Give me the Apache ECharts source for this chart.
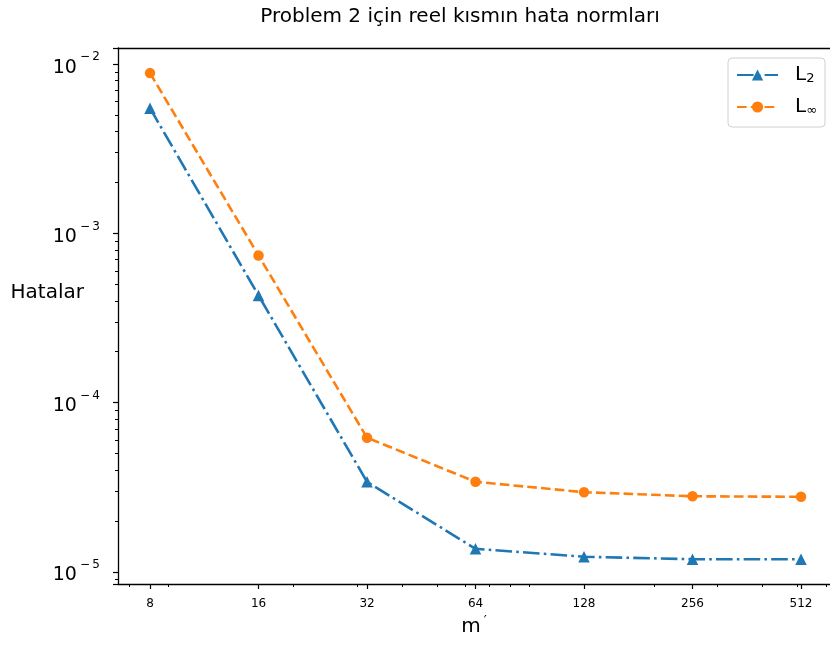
<!DOCTYPE html>
<html>
<head>
<meta charset="utf-8">
<script src="https://cdn.jsdelivr.net/npm/echarts@6/dist/echarts.min.js"></script>
<style>
html,body{margin:0;padding:0;background:#fff;}
#chart{width:830px;height:646px;}
</style>
</head>
<body>
<div id="chart"></div>
<script>
const titleText = 'Problem 2 için reel kısmın hata normları';
const mValues = [8, 16, 32, 64, 128, 256, 512];
const l2Values = [5.49e-3, 4.3e-4, 3.41e-5, 1.37e-5, 1.23e-5, 1.19e-5, 1.19e-5];
const linfValues = [8.85e-3, 7.41e-4, 6.21e-5, 3.41e-5, 2.96e-5, 2.80e-5, 2.78e-5];
const seriesNames = ['L2', 'L∞'];

const FONT = 'DejaVu Sans';
const chart = echarts.init(document.getElementById('chart'));

function pairs(vals) { return mValues.map((m, i) => [m, vals[i]]); }

const supMinus = '\u2212';
const X_MIN = Math.pow(2, 2.705), X_MAX = Math.pow(2, 9.267);

chart.setOption({
  animation: false,
  backgroundColor: '#fff',
  textStyle: { fontFamily: FONT },
  title: {
    text: titleText,
    left: 455, top: 2, textAlign: 'center',
    textStyle: { fontFamily: FONT, fontSize: 20, fontWeight: 'normal', color: '#000' }
  },
  grid: { left: 118, right: 0, top: 48, bottom: 62, show: false, containLabel: false },
  legend: {
    right: 5, top: 58, orient: 'vertical',
    itemWidth: 41, itemHeight: 14, itemGap: 12,
    padding: [7, 8, 10, 8],
    borderColor: '#d0d0d0', borderWidth: 1, borderRadius: 4,
    backgroundColor: 'rgba(255,255,255,0.8)',
    formatter: function (name) { return name === 'L2' ? '{b|L}{sub|2}' : '{b|L}{sub|∞}'; },
    textStyle: {
      fontFamily: FONT, fontSize: 20, color: '#000', padding: [0, 0, 0, 12],
      rich: {
        b: { fontFamily: FONT, fontSize: 20, lineHeight: 20 },
        sub: { fontFamily: FONT, fontSize: 13, lineHeight: 20, verticalAlign: 'bottom', padding: [6, 0, 0, 0] }
      }
    },
    data: seriesNames
  },
  xAxis: [{
    type: 'log', logBase: 2,
    min: X_MIN, max: X_MAX,
    name: '{b|m}{sup|′}',
    nameLocation: 'middle', nameGap: 30, nameMoveOverlap: false,
    nameTextStyle: { fontFamily: FONT, fontSize: 20, color: '#000',
      rich: { b: { fontFamily: FONT, fontSize: 20 }, sup: { fontFamily: FONT, fontSize: 13, padding: [0, 0, 12, 3] } } },
    axisLine: { show: true, onZero: false, lineStyle: { color: '#000', width: 1.3 } },
    axisTick: { show: true, length: 5, lineStyle: { color: '#000', width: 1.2 } },
    axisLabel: { show: true, showMinLabel: false, showMaxLabel: false, margin: 14, fontFamily: FONT, fontSize: 12, color: '#000',
      formatter: function (v) { return String(Math.round(v)); } },
    splitLine: { show: false }
  }, {
    type: 'log', logBase: 10,
    min: X_MIN, max: X_MAX,
    position: 'bottom',
    axisLine: { show: false, onZero: false },
    axisTick: { show: false },
    axisLabel: { show: false },
    minorTick: { show: true, splitNumber: 9, length: 3, lineStyle: { color: '#000', width: 1 } },
    splitLine: { show: false }
  }, {
    type: 'log', logBase: 2,
    min: X_MIN, max: X_MAX,
    position: 'top',
    axisLine: { show: true, onZero: false, lineStyle: { color: '#000', width: 1.3 } },
    axisTick: { show: false },
    axisLabel: { show: false },
    splitLine: { show: false }
  }],
  yAxis: {
    type: 'log', logBase: 10,
    min: 8.49e-6, max: 0.01245,
    name: '{a|Hatalar}',
    nameLocation: 'middle', nameRotate: 0, nameGap: 34, nameMoveOverlap: false,
    nameTextStyle: { fontFamily: FONT, fontSize: 20, color: '#000', align: 'right',
      rich: { a: { fontFamily: FONT, fontSize: 20, lineHeight: 20, padding: [0, 0, 46, 0] } } },
    axisLine: { show: true, onZero: false, lineStyle: { color: '#000', width: 1.3 } },
    axisTick: { show: true, length: 5, lineStyle: { color: '#000', width: 1.2 } },
    minorTick: { show: true, splitNumber: 9, length: 3, lineStyle: { color: '#000', width: 1 } },
    axisLabel: {
      showMinLabel: false, showMaxLabel: false, margin: 18, color: '#000',
      fontFamily: FONT, fontSize: 19,
      formatter: function (v) {
        const e = Math.round(Math.log10(v));
        return '{b|10}{sup|' + (e < 0 ? supMinus + '\u2009' + (-e) : e) + '}';
      },
      rich: {
        b: { fontFamily: FONT, fontSize: 19, lineHeight: 26, verticalAlign: 'bottom' },
        sup: { fontFamily: FONT, fontSize: 12, lineHeight: 14, verticalAlign: 'top', padding: [0, 0, 0, 3] }
      }
    },
    splitLine: { show: false }
  },
  series: [{
    name: 'L2', type: 'line', xAxisIndex: 0, data: pairs(l2Values),
    symbol: 'triangle', symbolSize: 11.5,
    itemStyle: { color: '#1f77b4' },
    lineStyle: { color: '#1f77b4', width: 2.6, type: [16.6, 4.2, 2.6, 4.2] }
  }, {
    name: 'L∞', type: 'line', xAxisIndex: 0, data: pairs(linfValues),
    symbol: 'circle', symbolSize: 10.5,
    itemStyle: { color: '#ff7f0e' },
    lineStyle: { color: '#ff7f0e', width: 2.6, type: [9.6, 4.2] }
  }]
});
</script>
</body>
</html>
